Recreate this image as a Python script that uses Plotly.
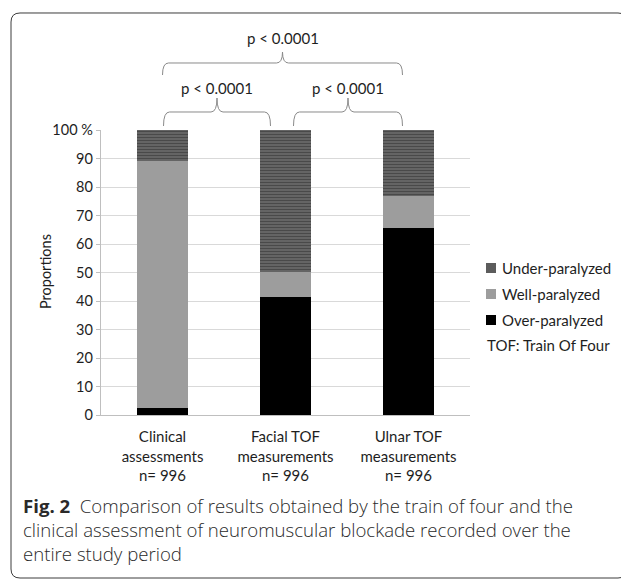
import plotly.graph_objects as go

# ---------------- data ----------------
cat_names = ["Clinical<br>assessments", "Facial TOF<br>measurements", "Ulnar TOF<br>measurements"]
cat_n = [996, 996, 996]
series_names = ["Over-paralyzed", "Well-paralyzed", "Under-paralyzed"]
over_vals = [2.4, 41.3, 65.7]
well_vals = [86.7, 8.8, 11.1]
under_vals = [10.9, 49.9, 23.2]
y_tickvals = [0, 10, 20, 30, 40, 50, 60, 70, 80, 90, 100]
y_ticktext = ["0", "10", "20", "30", "40", "50", "60", "70", "80", "90", "100 %"]
comparisons = [(0, 2, "p < 0.0001"), (0, 1, "p < 0.0001"), (1, 2, "p < 0.0001")]
legend_note = "TOF: Train Of Four"
caption_bold = "Fig. 2"
caption_lines = [
    "Comparison of results obtained by the train of four and the",
    "clinical assessment of neuromuscular blockade recorded over the",
    "entire study period",
]

# ---------------- layout geometry (window pixels) ----------------
WIN_W, WIN_H = 629, 581
OFF = 8                      # page body margin
W, H = WIN_W - OFF, WIN_H - OFF
PL, PR, PT, PB = 101, 470, 130, 415
FONT = "Lato"
TXT = "#1e1e1e"


def fx(px):
    return (px - PL) / (PR - PL)


def fy(py):
    return (PB - py) / (PB - PT)


def cat_px(i):
    return PL + (PR - PL) * (i + 0.5) / len(cat_names)


labels = [f"{c}<br>n= {n}" for c, n in zip(cat_names, cat_n)]

styles = {
    "Over-paralyzed": dict(marker=dict(color="#000000", line=dict(width=0))),
    "Well-paralyzed": dict(marker=dict(color="#9d9d9d", line=dict(width=0))),
    "Under-paralyzed": dict(marker=dict(color="#4a4a4a", line=dict(width=0),
                                        pattern=dict(shape="-", fgcolor="#1c1c1c",
                                                     bgcolor="#767676", size=3,
                                                     solidity=0.6))),
}
values = {"Over-paralyzed": over_vals, "Well-paralyzed": well_vals, "Under-paralyzed": under_vals}

fig = go.Figure()
for name in series_names:
    fig.add_trace(go.Bar(x=labels, y=values[name], name=name, width=0.41,
                         showlegend=False, **styles[name]))

shapes = []
annotations = []


def to_path(pts):
    return " ".join(cmd + " " + " ".join(f"{fx(px):.5f},{fy(py):.5f}" for px, py in p) for cmd, p in pts)


# ---- significance braces ----
brace_geom = [
    dict(o0=0, o1=-6, yh=63, ye=75, yt=52, yl=38),
    dict(o0=1, o1=-15, yh=112, ye=126, yt=98, yl=88),
    dict(o0=8, o1=-6, yh=112, ye=126, yt=98, yl=88),
]
for (a, b, txt), g in zip(comparisons, brace_geom):
    x0 = cat_px(a) + g["o0"]
    x1 = cat_px(b) + g["o1"]
    xc = (x0 + x1) / 2
    r = 6
    yh, ye, yt = g["yh"], g["ye"], g["yt"]
    pts = [
        ("M", [(x0, ye)]),
        ("Q", [(x0, yh), (x0 + r, yh)]),
        ("L", [(xc - r, yh)]),
        ("Q", [(xc, yh), (xc, yt)]),
        ("Q", [(xc, yh), (xc + r, yh)]),
        ("L", [(x1 - r, yh)]),
        ("Q", [(x1, yh), (x1, ye)]),
    ]
    shapes.append(dict(type="path", xref="paper", yref="paper", path=to_path(pts),
                       line=dict(color="#8a8a8a", width=1)))
    annotations.append(dict(x=fx(xc), y=fy(g["yl"]), xref="paper", yref="paper",
                            text=txt, showarrow=False, xanchor="center", yanchor="middle",
                            font=dict(family=FONT, size=15, color=TXT)))

# ---- outer rounded frame ----
bx0, bx1, by0, by1, rr = 11, 627, 13, 578, 9
frame = [
    ("M", [(bx0 + rr, by0)]), ("L", [(bx1 - rr, by0)]), ("Q", [(bx1, by0), (bx1, by0 + rr)]),
    ("L", [(bx1, by1 - rr)]), ("Q", [(bx1, by1), (bx1 - rr, by1)]),
    ("L", [(bx0 + rr, by1)]), ("Q", [(bx0, by1), (bx0, by1 - rr)]),
    ("L", [(bx0, by0 + rr)]), ("Q", [(bx0, by0), (bx0 + rr, by0)]),
]
shapes.append(dict(type="path", xref="paper", yref="paper", path=to_path(frame),
                   line=dict(color="#3c3c3c", width=1)))

# ---- manual legend ----
leg_rows = [268, 294, 320]
leg_order = list(reversed(series_names))
sym_x0, sym_x1, sym_h = 486, 496, 10
for name, yr in zip(leg_order, leg_rows):
    st = styles[name]["marker"]
    y0, y1 = yr - sym_h / 2, yr + sym_h / 2
    if "pattern" in st:
        shapes.append(dict(type="rect", xref="paper", yref="paper",
                           x0=fx(sym_x0), x1=fx(sym_x1), y0=fy(y1), y1=fy(y0),
                           fillcolor="#bdbdbd", line=dict(width=0)))
        yy = y0 + 1
        while yy < y1:
            shapes.append(dict(type="line", xref="paper", yref="paper",
                               x0=fx(sym_x0), x1=fx(sym_x1), y0=fy(yy), y1=fy(yy),
                               line=dict(color="#1c1c1c", width=1.2)))
            yy += 2
    else:
        shapes.append(dict(type="rect", xref="paper", yref="paper",
                           x0=fx(sym_x0), x1=fx(sym_x1), y0=fy(y1), y1=fy(y0),
                           fillcolor=st["color"], line=dict(width=0)))
    annotations.append(dict(x=fx(500), y=fy(yr), xref="paper", yref="paper", text=name,
                            showarrow=False, xanchor="left", yanchor="middle",
                            font=dict(family=FONT, size=15, color=TXT)))
annotations.append(dict(x=fx(485), y=fy(345), xref="paper", yref="paper", text=legend_note,
                        showarrow=False, xanchor="left", yanchor="middle",
                        font=dict(family=FONT, size=15, color=TXT)))

# ---- y axis title ----
annotations.append(dict(x=fx(45), y=fy(272), xref="paper", yref="paper", text="Proportions",
                        textangle=-90, showarrow=False, xanchor="center", yanchor="middle",
                        font=dict(family=FONT, size=14.5, color=TXT)))

# ---- caption ----
cap_rows = [505, 529, 553]
for i, (line, yr) in enumerate(zip(caption_lines, cap_rows)):
    t = (f"<b>{caption_bold}</b>\u00a0\u00a0" + line) if i == 0 else line
    annotations.append(dict(x=fx(21), y=fy(yr), xref="paper", yref="paper", text=t,
                            showarrow=False, xanchor="left", yanchor="middle",
                            font=dict(family="Open Sans", size=18.6, color="#2a2a2a", weight=300)))

fig.update_layout(
    width=W, height=H,
    margin=dict(l=PL - OFF, r=W - (PR - OFF), t=PT - OFF, b=H - (PB - OFF), autoexpand=False),
    paper_bgcolor="white", plot_bgcolor="white",
    barmode="stack",
    showlegend=False,
    shapes=shapes, annotations=annotations,
    xaxis=dict(range=[-0.5, 2.5], showline=True, linecolor="#bfbfbf", linewidth=1.3,
               ticks="", showgrid=False, ticklabelstandoff=8,
               tickfont=dict(family=FONT, size=15, color=TXT)),
    yaxis=dict(range=[0, 100], tickvals=y_tickvals, ticktext=y_ticktext,
               showgrid=True, gridcolor="#d9d9d9", gridwidth=1.3,
               showline=True, linecolor="#bfbfbf", linewidth=1.3,
               ticks="outside", ticklen=4, tickcolor="#bfbfbf", zeroline=False,
               tickfont=dict(family=FONT, size=14.5, color=TXT)),
)

fig.write_html("out.html")
